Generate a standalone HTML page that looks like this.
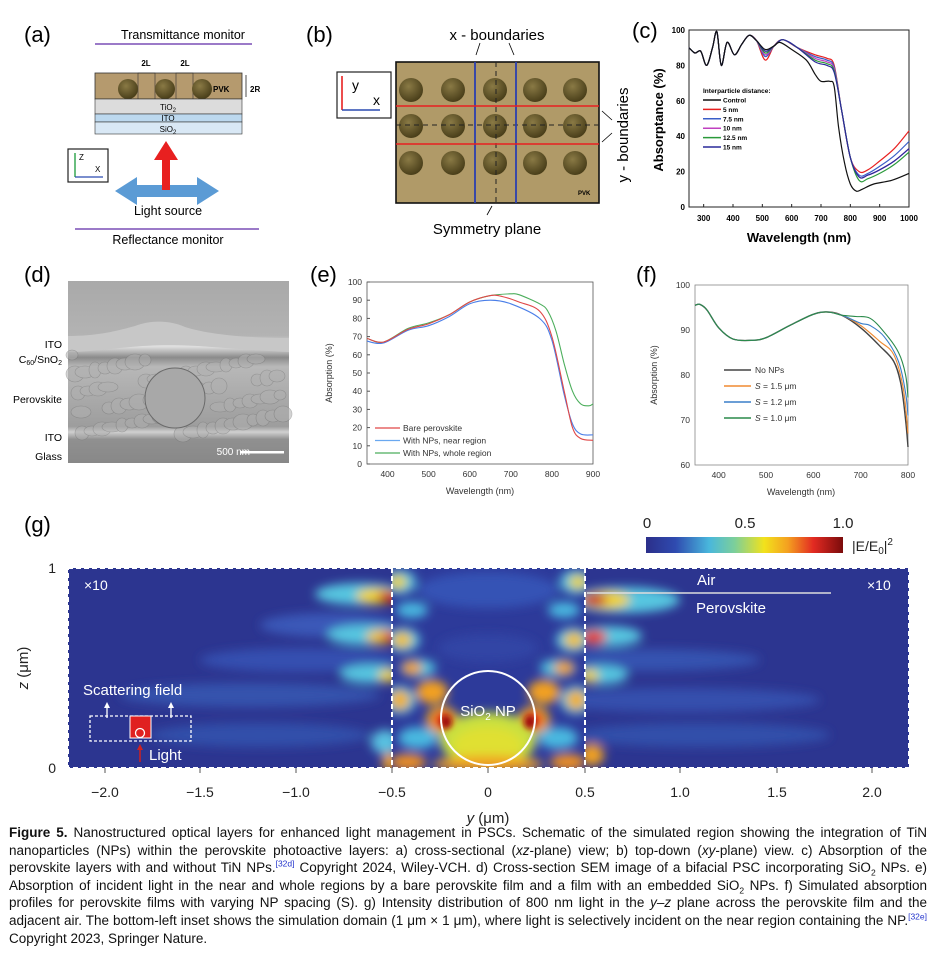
<!DOCTYPE html>
<html><head><meta charset="utf-8">
<style>
html,body{margin:0;padding:0;background:#fff;}
body{width:936px;height:974px;position:relative;overflow:hidden;font-family:"Liberation Sans",sans-serif;}
svg{position:absolute;left:0;top:0;}
.cap{position:absolute;left:9px;top:824px;width:918px;font-family:"Liberation Sans",sans-serif;font-size:13.5px;line-height:17.6px;text-align:justify;color:#111;}
.cap sup,.cap sub{font-size:8.5px;line-height:0;}
.cap a{color:#2233cc;}
</style></head><body>
<svg id="s" width="936" height="974" viewBox="0 0 936 974" font-family="Liberation Sans, sans-serif">
<defs>
<radialGradient id="sph" cx="40%" cy="35%" r="65%"><stop offset="0" stop-color="#8a7a45"/><stop offset="1" stop-color="#4a3f1a"/></radialGradient>
<linearGradient id="cbar" x1="0" x2="1" y1="0" y2="0">
<stop offset="0" stop-color="#2b2f8a"/><stop offset="0.15" stop-color="#2f4bb0"/><stop offset="0.32" stop-color="#49b7dc"/><stop offset="0.45" stop-color="#7ccf9a"/><stop offset="0.6" stop-color="#f2e21c"/><stop offset="0.72" stop-color="#f4a020"/><stop offset="0.85" stop-color="#e22a22"/><stop offset="1" stop-color="#7a0b0b"/></linearGradient>
<filter id="bl" x="-50%" y="-50%" width="200%" height="200%"><feGaussianBlur stdDeviation="5"/></filter>
<filter id="bl2" x="-50%" y="-50%" width="200%" height="200%"><feGaussianBlur stdDeviation="3"/></filter>
<clipPath id="gL"><rect x="68" y="568" width="324" height="200"/></clipPath>
<clipPath id="gM"><rect x="392" y="568" width="193" height="200"/></clipPath>
<clipPath id="gR"><rect x="585" y="568" width="324" height="200"/></clipPath>
<linearGradient id="sem" x1="0" x2="0" y1="0" y2="1"><stop offset="0" stop-color="#a9a9a9"/><stop offset="0.3" stop-color="#b3b3b3"/><stop offset="0.36" stop-color="#e0e0e0"/><stop offset="0.42" stop-color="#8a8a8a"/><stop offset="0.47" stop-color="#b8b8b8"/><stop offset="0.8" stop-color="#9d9d9d"/><stop offset="0.83" stop-color="#d0d0d0"/><stop offset="0.87" stop-color="#909090"/><stop offset="1" stop-color="#888"/></linearGradient>
</defs>

<!-- (a) -->
<text x="24" y="42" font-size="22">(a)</text>
<text x="183" y="39" font-size="12.5" text-anchor="middle">Transmittance monitor</text>
<line x1="95" y1="44" x2="252" y2="44" stroke="#7a4fb5" stroke-width="1.5"/>
<rect x="95" y="73" width="147" height="26" fill="#b59a6e" stroke="#333" stroke-width="0.8"/>
<rect x="138" y="73" width="17" height="26" fill="none" stroke="#333" stroke-width="0.6"/>
<rect x="176" y="73" width="17" height="26" fill="none" stroke="#333" stroke-width="0.6"/>
<circle cx="128" cy="89" r="10" fill="url(#sph)"/><circle cx="165" cy="89" r="10" fill="url(#sph)"/><circle cx="202" cy="89" r="10" fill="url(#sph)"/>
<text x="213" y="92" font-size="8" font-weight="bold">PVK</text>
<text x="250" y="92" font-size="8" font-weight="bold">2R</text>
<line x1="246" y1="75" x2="246" y2="97" stroke="#000" stroke-width="0.7"/>
<text x="146" y="66" font-size="8" font-weight="bold" text-anchor="middle">2L</text>
<text x="185" y="66" font-size="8" font-weight="bold" text-anchor="middle">2L</text>
<rect x="95" y="99" width="147" height="15" fill="#dcdcdc" stroke="#333" stroke-width="0.6"/>
<rect x="95" y="114" width="147" height="8" fill="#bcd8ee" stroke="#333" stroke-width="0.6"/>
<rect x="95" y="122" width="147" height="12" fill="#d9e8f5" stroke="#333" stroke-width="0.6"/>
<text x="168" y="110" font-size="8" text-anchor="middle">TiO<tspan font-size="6" dy="2">2</tspan></text>
<text x="168" y="121" font-size="8" text-anchor="middle">ITO</text>
<text x="168" y="132" font-size="8" text-anchor="middle">SiO<tspan font-size="6" dy="2">2</tspan></text>
<rect x="68" y="149" width="40" height="33" fill="#fff" stroke="#222" stroke-width="1.2"/>
<line x1="75" y1="177" x2="75" y2="153" stroke="#1a9a3a" stroke-width="1.3"/><line x1="75" y1="177" x2="103" y2="177" stroke="#2a4ab0" stroke-width="1.3"/>
<text x="79" y="160" font-size="8">Z</text><text x="95" y="172" font-size="8">X</text>
<polygon points="115,191 137,177 137,185 197,185 197,177 219,191 197,205 197,197 137,197 137,205" fill="#5b9bd5"/>
<polygon points="162,190 162,160 154,160 166,141 178,160 170,160 170,190" fill="#e82020"/>
<text x="168" y="215" font-size="12.5" text-anchor="middle">Light source</text>
<line x1="75" y1="229" x2="259" y2="229" stroke="#7a4fb5" stroke-width="1.5"/>
<text x="168" y="244" font-size="12.5" text-anchor="middle">Reflectance monitor</text>

<!-- (b) -->
<text x="306" y="42" font-size="22">(b)</text>
<text x="497" y="40" font-size="15" text-anchor="middle">x - boundaries</text>
<rect x="337" y="72" width="54" height="46" fill="#fff" stroke="#222" stroke-width="1.2"/>
<line x1="342" y1="110" x2="342" y2="76" stroke="#e82020" stroke-width="1.6"/><line x1="342" y1="110" x2="380" y2="110" stroke="#2a4ab0" stroke-width="1.6"/>
<text x="352" y="90" font-size="14">y</text><text x="373" y="105" font-size="14">x</text>
<rect x="396" y="62" width="203" height="141" fill="#b09a68" stroke="#111" stroke-width="1.6"/>
<g id="bsph"></g>
<line x1="396" y1="125" x2="599" y2="125" stroke="#222" stroke-dasharray="5,4" stroke-width="1"/>
<line x1="496" y1="62" x2="496" y2="203" stroke="#222" stroke-dasharray="5,4" stroke-width="1"/>
<line x1="475" y1="62" x2="475" y2="203" stroke="#2b3fb0" stroke-width="1.8"/>
<line x1="516" y1="62" x2="516" y2="203" stroke="#2b3fb0" stroke-width="1.8"/>
<line x1="396" y1="106" x2="599" y2="106" stroke="#e82020" stroke-width="1.5"/>
<line x1="396" y1="144" x2="599" y2="144" stroke="#e82020" stroke-width="1.5"/>
<text x="578" y="195" font-size="6" font-weight="bold">PVK</text>
<line x1="480" y1="43" x2="476" y2="55" stroke="#000" stroke-width="0.8"/><line x1="509" y1="43" x2="514" y2="55" stroke="#000" stroke-width="0.8"/>
<line x1="487" y1="215" x2="492" y2="206" stroke="#000" stroke-width="0.8"/>
<line x1="612" y1="120" x2="602" y2="111" stroke="#000" stroke-width="0.8"/><line x1="612" y1="133" x2="602" y2="142" stroke="#000" stroke-width="0.8"/>
<text x="487" y="234" font-size="15" text-anchor="middle">Symmetry plane</text>
<text transform="translate(628,135) rotate(-90)" font-size="15" text-anchor="middle">y - boundaries</text>

<!-- (c) -->
<text x="632" y="38" font-size="22">(c)</text>
<rect x="689" y="30" width="220" height="177" fill="none" stroke="#222" stroke-width="1"/>
<g id="cax" font-size="8" font-weight="bold"></g>
<g id="cplot" fill="none" stroke-width="1.2"></g>
<text x="703" y="93" font-size="6.5" font-weight="bold">Interparticle distance:</text>
<g id="cleg" font-size="6.5" font-weight="bold"></g>
<text x="799" y="242" font-size="13" font-weight="bold" text-anchor="middle">Wavelength (nm)</text>
<text transform="translate(663,120) rotate(-90)" font-size="13" font-weight="bold" text-anchor="middle">Absorptance (%)</text>

<!-- (d) -->
<text x="24" y="282" font-size="22">(d)</text>
<rect x="68" y="281" width="221" height="182" fill="url(#sem)"/>
<path d="M68,336 C100,336 120,330 135,326 C150,320 170,320 185,327 C210,335 250,338 289,338 L289,352 C240,350 200,345 170,345 C130,345 100,352 68,352Z" fill="#c7c7c7"/>
<g id="semg" fill="#b0b0b0" stroke="#777" stroke-width="0.6" opacity="0.55"></g>
<circle cx="175" cy="398" r="30" fill="#a8a8a8" stroke="#6a6a6a"/>
<text x="250" y="455" font-size="10" fill="#fff" text-anchor="end">500 nm</text>
<rect x="240" y="451" width="44" height="2.5" fill="#fff"/>
<g font-size="10.5" text-anchor="end">
<text x="62" y="348">ITO</text>
<text x="62" y="363">C<tspan font-size="7" dy="2">60</tspan><tspan dy="-2">/SnO</tspan><tspan font-size="7" dy="2">2</tspan></text>
<text x="62" y="403">Perovskite</text>
<text x="62" y="441">ITO</text>
<text x="62" y="460">Glass</text>
</g>

<!-- (e) -->
<text x="310" y="282" font-size="22">(e)</text>
<rect x="367" y="282" width="226" height="182" fill="none" stroke="#555" stroke-width="0.8"/>
<g id="eax" font-size="8.5" fill="#333"></g>
<g id="eplot" fill="none" stroke-width="1.1"></g>
<g id="eleg" font-size="8.5" fill="#333"></g>
<text x="480" y="494" font-size="9" fill="#333" text-anchor="middle">Wavelength (nm)</text>
<text transform="translate(332,373) rotate(-90)" font-size="9" fill="#333" text-anchor="middle">Absorption (%)</text>

<!-- (f) -->
<text x="636" y="282" font-size="22">(f)</text>
<rect x="695" y="285" width="213" height="180" fill="none" stroke="#888" stroke-width="0.8"/>
<g id="fax" font-size="8.5" fill="#333"></g>
<g id="fplot" fill="none" stroke-width="1.1"></g>
<g id="fleg" font-size="8.5" fill="#333"></g>
<text x="801" y="495" font-size="9" fill="#333" text-anchor="middle">Wavelength (nm)</text>
<text transform="translate(657,375) rotate(-90)" font-size="9" fill="#333" text-anchor="middle">Absorption (%)</text>

<!-- (g) -->
<text x="24" y="532" font-size="22">(g)</text>
<text x="647" y="528" font-size="15" fill="#222" text-anchor="middle">0</text>
<text x="745" y="528" font-size="15" fill="#222" text-anchor="middle">0.5</text>
<text x="843" y="528" font-size="15" fill="#222" text-anchor="middle">1.0</text>
<rect x="646" y="537" width="197" height="16" fill="url(#cbar)"/>
<text x="852" y="551" font-size="14" fill="#222">|E/E<tspan font-size="10" dy="3">0</tspan><tspan dy="-3">|</tspan><tspan font-size="10" dy="-6">2</tspan></text>

<rect x="68" y="568" width="841" height="200" fill="#2c3590"/>
<g clip-path="url(#gL)"><g filter="url(#bl)">
<ellipse cx="330" cy="625" rx="70" ry="12" fill="#3a58b8"/>
<ellipse cx="300" cy="660" rx="100" ry="12" fill="#3550b0"/>
<ellipse cx="250" cy="695" rx="130" ry="12" fill="#3452ad"/>
<ellipse cx="260" cy="735" rx="110" ry="12" fill="#3350aa"/>
<ellipse cx="360" cy="594" rx="45" ry="11" fill="#56c6e0"/>
<ellipse cx="378" cy="596" rx="22" ry="8" fill="#f0d020"/>
<ellipse cx="390" cy="597" rx="12" ry="6" fill="#c81818"/>
<ellipse cx="365" cy="635" rx="38" ry="10" fill="#56c6e0"/>
<ellipse cx="382" cy="637" rx="16" ry="7" fill="#f0c020"/>
<ellipse cx="390" cy="637" rx="8" ry="5" fill="#d82018"/>
<ellipse cx="370" cy="674" rx="30" ry="9" fill="#56c6e0"/>
<ellipse cx="388" cy="676" rx="10" ry="6" fill="#f0d020"/>
<ellipse cx="385" cy="742" rx="14" ry="12" fill="#58c0e0"/>
<ellipse cx="390" cy="762" rx="8" ry="9" fill="#f0a020"/>
</g></g>
<g clip-path="url(#gM)">
<rect x="392" y="568" width="193" height="200" fill="#2d3a9a"/>
<g filter="url(#bl)">
<ellipse cx="488" cy="590" rx="70" ry="18" fill="#3552b5"/>
<ellipse cx="488" cy="648" rx="50" ry="14" fill="#3044a5"/>
<ellipse cx="400" cy="582" rx="16" ry="12" fill="#56c6e0"/><ellipse cx="576" cy="582" rx="16" ry="12" fill="#56c6e0"/>
<ellipse cx="398" cy="582" rx="9" ry="7" fill="#e8d020"/><ellipse cx="578" cy="582" rx="9" ry="7" fill="#e8d020"/>
<ellipse cx="412" cy="610" rx="16" ry="8" fill="#4ab8e0"/><ellipse cx="564" cy="610" rx="16" ry="8" fill="#4ab8e0"/>
<ellipse cx="403" cy="640" rx="17" ry="12" fill="#56c6e0"/><ellipse cx="573" cy="640" rx="17" ry="12" fill="#56c6e0"/>
<ellipse cx="402" cy="640" rx="10" ry="8" fill="#f0c020"/><ellipse cx="574" cy="640" rx="10" ry="8" fill="#f0c020"/>
<ellipse cx="418" cy="668" rx="18" ry="9" fill="#50c0dc"/><ellipse cx="558" cy="668" rx="18" ry="9" fill="#50c0dc"/>
<ellipse cx="412" cy="668" rx="10" ry="7" fill="#f2a020"/><ellipse cx="564" cy="668" rx="10" ry="7" fill="#f2a020"/>
<ellipse cx="400" cy="700" rx="16" ry="14" fill="#56c6e0"/><ellipse cx="576" cy="700" rx="16" ry="14" fill="#56c6e0"/>
<ellipse cx="400" cy="700" rx="10" ry="10" fill="#f0b020"/><ellipse cx="576" cy="700" rx="10" ry="10" fill="#f0b020"/>
<ellipse cx="432" cy="692" rx="16" ry="12" fill="#f2a020"/><ellipse cx="544" cy="692" rx="16" ry="12" fill="#f2a020"/>
<ellipse cx="442" cy="720" rx="16" ry="14" fill="#f0b020"/><ellipse cx="534" cy="720" rx="16" ry="14" fill="#f0b020"/>
<ellipse cx="442" cy="720" rx="10" ry="9" fill="#e83020"/><ellipse cx="534" cy="720" rx="10" ry="9" fill="#e83020"/>
<ellipse cx="418" cy="738" rx="20" ry="11" fill="#48b8e0"/><ellipse cx="558" cy="738" rx="20" ry="11" fill="#48b8e0"/>
<ellipse cx="488" cy="740" rx="48" ry="28" fill="#c8e040"/>
<ellipse cx="488" cy="745" rx="35" ry="18" fill="#e0e030"/>
<ellipse cx="488" cy="764" rx="55" ry="8" fill="#f0a020"/>
<ellipse cx="408" cy="762" rx="18" ry="8" fill="#f09020"/><ellipse cx="568" cy="762" rx="18" ry="8" fill="#f09020"/>
</g>
<g filter="url(#bl2)"><ellipse cx="446" cy="722" rx="6" ry="7" fill="#a01010"/><ellipse cx="530" cy="722" rx="6" ry="7" fill="#a01010"/></g>
</g>
<g clip-path="url(#gR)"><g filter="url(#bl)">
<ellipse cx="650" cy="660" rx="110" ry="11" fill="#3552b0"/>
<ellipse cx="680" cy="700" rx="140" ry="12" fill="#3450ad"/>
<ellipse cx="700" cy="735" rx="130" ry="12" fill="#3350aa"/>
<ellipse cx="625" cy="600" rx="55" ry="13" fill="#56c6e0"/>
<ellipse cx="605" cy="600" rx="25" ry="9" fill="#f0d020"/>
<ellipse cx="594" cy="600" rx="13" ry="6" fill="#c81818"/>
<ellipse cx="608" cy="636" rx="34" ry="10" fill="#56c6e0"/>
<ellipse cx="594" cy="637" rx="13" ry="7" fill="#e83020"/>
<ellipse cx="602" cy="675" rx="26" ry="9" fill="#56c6e0"/>
<ellipse cx="590" cy="676" rx="9" ry="6" fill="#f0d020"/>
<ellipse cx="592" cy="755" rx="12" ry="11" fill="#f0a020"/>
</g></g>
<circle cx="488" cy="718" r="47" fill="none" stroke="#fff" stroke-width="2"/>
<text x="488" y="716" font-size="15" fill="#fff" text-anchor="middle">SiO<tspan font-size="10" dy="4">2</tspan><tspan dy="-4"> NP</tspan></text>
<rect x="68" y="568" width="841" height="200" fill="none" stroke="#fff" stroke-width="2" stroke-dasharray="5,3"/>
<line x1="392" y1="568" x2="392" y2="768" stroke="#fff" stroke-width="2" stroke-dasharray="5,3"/>
<line x1="585" y1="568" x2="585" y2="768" stroke="#fff" stroke-width="2" stroke-dasharray="5,3"/>
<text x="84" y="590" font-size="14" fill="#fff">×10</text>
<text x="867" y="590" font-size="14" fill="#fff">×10</text>
<text x="697" y="585" font-size="15" fill="#fff">Air</text>
<line x1="587" y1="593" x2="831" y2="593" stroke="#ddd" stroke-width="1.5"/>
<text x="696" y="613" font-size="15" fill="#fff">Perovskite</text>
<text x="83" y="695" font-size="15" fill="#fff">Scattering field</text>
<rect x="90" y="716" width="101" height="25" fill="none" stroke="#fff" stroke-width="1.3" stroke-dasharray="3,2"/>
<rect x="130" y="716" width="21" height="22" fill="#e02020" stroke="#fff" stroke-width="1"/>
<circle cx="140" cy="733" r="4.5" fill="none" stroke="#fff" stroke-width="1.3"/>
<line x1="107" y1="718" x2="107" y2="706" stroke="#fff" stroke-width="1.3"/><polygon points="104,708 107,702 110,708" fill="#fff"/>
<line x1="171" y1="718" x2="171" y2="706" stroke="#fff" stroke-width="1.3"/><polygon points="168,708 171,702 174,708" fill="#fff"/>
<line x1="140" y1="762" x2="140" y2="748" stroke="#d02020" stroke-width="1.5"/><polygon points="137,750 140,744 143,750" fill="#d02020"/>
<text x="149" y="760" font-size="15" fill="#fff">Light</text>
<g id="gax" font-size="14" fill="#222"></g>
<text x="56" y="573" font-size="14" fill="#222" text-anchor="end">1</text>
<text x="56" y="773" font-size="14" fill="#222" text-anchor="end">0</text>
<text transform="translate(28,668) rotate(-90)" font-size="15" fill="#222" text-anchor="middle"><tspan font-style="italic">z</tspan> (μm)</text>
<text x="488" y="823" font-size="15" fill="#222" text-anchor="middle"><tspan font-style="italic">y</tspan> (μm)</text>
</svg>

<div class="cap"><b>Figure 5.</b> Nanostructured optical layers for enhanced light management in PSCs. Schematic of the simulated region showing the integration of TiN nanoparticles (NPs) within the perovskite photoactive layers: a) cross-sectional (<i>xz</i>-plane) view; b) top-down (<i>xy</i>-plane) view. c) Absorption of the perovskite layers with and without TiN NPs.<sup><a>[32d]</a></sup> Copyright 2024, Wiley-VCH. d) Cross-section SEM image of a bifacial PSC incorporating SiO<sub>2</sub> NPs. e) Absorption of incident light in the near and whole regions by a bare perovskite film and a film with an embedded SiO<sub>2</sub> NPs. f) Simulated absorption profiles for perovskite films with varying NP spacing (S). g) Intensity distribution of 800 nm light in the <i>y</i>–<i>z</i> plane across the perovskite film and the adjacent air. The bottom-left inset shows the simulation domain (1 μm × 1 μm), where light is selectively incident on the near region containing the NP.<sup><a>[32e]</a></sup> Copyright 2023, Springer Nature.</div>

<script>
var NS="http://www.w3.org/2000/svg";
function el(p,t,a,txt){var e=document.createElementNS(NS,t);for(var k in a)e.setAttribute(k,a[k]);if(txt!==undefined)e.textContent=txt;document.getElementById(p).appendChild(e);return e;}
function path(pts,X,Y){var P=pts.map(function(p){return [X(p[0]),Y(p[1])];});var d="M"+P[0][0].toFixed(1)+","+P[0][1].toFixed(1);
for(var i=0;i<P.length-1;i++){var p0=P[i-1]||P[i],p1=P[i],p2=P[i+1],p3=P[i+2]||p2;
d+=" C"+(p1[0]+(p2[0]-p0[0])/6).toFixed(1)+","+(p1[1]+(p2[1]-p0[1])/6).toFixed(1)+" "+(p2[0]-(p3[0]-p1[0])/6).toFixed(1)+","+(p2[1]-(p3[1]-p1[1])/6).toFixed(1)+" "+p2[0].toFixed(1)+","+p2[1].toFixed(1);}
return d;}
[411,453,495,535,575].forEach(function(x){[90,126,163].forEach(function(y){el("bsph","circle",{cx:x,cy:y,r:12,fill:"url(#sph)"});});});
var cX=function(w){return 689+(w-250)*220/750;},cY=function(a){return 207-1.77*a;};
[300,400,500,600,700,800,900,1000].forEach(function(w){el("cax","text",{x:cX(w),y:221,"text-anchor":"middle"},w);el("cax","line",{x1:cX(w),x2:cX(w),y1:207,y2:204,stroke:"#222"});});
[0,20,40,60,80,100].forEach(function(a){el("cax","text",{x:685,y:cY(a)+3,"text-anchor":"end"},a);});
var base=[[250,90],[270,87],[290,88],[310,80],[330,90],[345,99],[360,80],[380,93],[405,86],[430,92],[455,97],[480,94]];
function cser(d510,hi,tail){return base.concat([[510,d510],[540,91],[570,94.5],[620,90],[680,hi],[720,hi-2],[745,hi-6],[770,55],[800,28],[830,tail[0]],[860,tail[1]],[900,tail[2]],[950,tail[3]],[1000,tail[4]]]);}
var cs=[["#e82020",cser(83,86,[20,21,26,33,43])],["#3a5ec8",cser(85,85,[18,19,23,29,37])],["#c040c0",cser(86,84,[17,18,21,26,33])],["#2a9a3a",cser(87,83,[15,16,19,24,31])],["#2a2a9a",cser(88,82,[17,18,21,26,33])]];
cs.forEach(function(s){el("cplot","path",{d:path(s[1],cX,cY),stroke:s[0]});});
el("cplot","path",{d:path(base.concat([[510,89],[540,91],[560,93],[600,89],[650,83],[680,75],[700,71],[730,71],[745,68],[760,45],[780,25],[800,13],[820,9],[840,10],[880,13],[940,15],[1000,19]]),cX,cY),stroke:"#111"});
[["#111","Control"],["#e82020","5 nm"],["#3a5ec8","7.5 nm"],["#c040c0","10 nm"],["#2a9a3a","12.5 nm"],["#2a2a9a","15 nm"]].forEach(function(l,i){var y=100+i*9.4;el("cleg","line",{x1:703,x2:721,y1:y,y2:y,stroke:l[0],"stroke-width":1.5});el("cleg","text",{x:723,y:y+2.5},l[1]);});
var eX=function(w){return 367+(w-350)*226/550;},eY=function(a){return 464-1.82*a;};
[400,500,600,700,800,900].forEach(function(w){el("eax","text",{x:eX(w),y:477,"text-anchor":"middle"},w);});
for(var a=0;a<=100;a+=10){el("eax","text",{x:362,y:eY(a)+3,"text-anchor":"end"},a);el("eax","line",{x1:367,x2:370,y1:eY(a),y2:eY(a),stroke:"#555"});}
el("eplot","path",{d:path([[350,69],[390,67],[450,74.5],[500,77.5],[550,82],[600,89],[650,92.5],[700,93.5],[720,93],[770,88],[790,84],[810,73],[830,55],[850,40],[870,33],[890,32],[900,33]],eX,eY),stroke:"#4cae5c"});
el("eplot","path",{d:path([[350,67.5],[390,66.5],[450,73.5],[500,76],[550,81],[600,88],[650,90],[700,88],[770,80],[800,68],[830,38],[850,22],[870,16.5],[900,16]],eX,eY),stroke:"#4a7ee8"});
el("eplot","path",{d:path([[350,69],[390,67],[450,74],[500,77],[550,82],[600,89],[650,92.5],[680,92],[720,89],[770,84],[800,70],[830,40],[850,20],[870,14],[900,13]],eX,eY),stroke:"#e04848"});
[["#e04848","Bare perovskite"],["#6aa8f0","With NPs, near region"],["#4cae5c","With NPs, whole region"]].forEach(function(l,i){var y=428+i*12.5;el("eleg","line",{x1:375,x2:400,y1:y,y2:y,stroke:l[0],"stroke-width":1.3});el("eleg","text",{x:403,y:y+3},l[1]);});
var fX=function(w){return 695+(w-350)*213/450;},fY=function(a){return 285+4.5*(100-a);};
[400,500,600,700,800].forEach(function(w){el("fax","text",{x:fX(w),y:478,"text-anchor":"middle"},w);});
[60,70,80,90,100].forEach(function(a){el("fax","text",{x:690,y:fY(a)+3,"text-anchor":"end"},a);});
var fb=[[350,95.5],[360,95.7],[375,94.5],[400,90.5],[430,88],[470,87.7],[500,88.3],[550,91],[600,93.5],[630,94],[660,93.3]];
el("fplot","path",{d:path(fb.concat([[700,90.5],[740,86.5],[770,83],[785,78],[795,70],[800,64]]),fX,fY),stroke:"#444","stroke-width":1.4});
el("fplot","path",{d:path(fb.concat([[700,91],[740,87.5],[770,84.5],[790,77],[800,67]]),fX,fY),stroke:"#f08a30"});
el("fplot","path",{d:path(fb.concat([[700,91.5],[720,91],[750,88.5],[780,83],[795,76],[800,71]]),fX,fY),stroke:"#3a7ec8"});
el("fplot","path",{d:path(fb.concat([[690,93],[720,92.6],[750,89.5],[780,85],[795,80],[800,75]]),fX,fY),stroke:"#2a8a4a"});
[["#444","No NPs",null],["#f08a30","S","= 1.5 μm"],["#3a7ec8","S","= 1.2 μm"],["#2a8a4a","S","= 1.0 μm"]].forEach(function(l,i){var y=370+i*16;el("fleg","line",{x1:724,x2:751,y1:y,y2:y,stroke:l[0],"stroke-width":1.6});var t=el("fleg","text",{x:755,y:y+3});if(l[2]){var a=document.createElementNS(NS,"tspan");a.setAttribute("font-style","italic");a.textContent="S ";t.appendChild(a);var b=document.createElementNS(NS,"tspan");b.textContent=l[2];t.appendChild(b);}else t.textContent=l[1];});
[["−2.0",105],["−1.5",200],["−1.0",296],["−0.5",392],["0",488],["0.5",585],["1.0",680],["1.5",777],["2.0",872]].forEach(function(t){el("gax","text",{x:t[1],y:797,"text-anchor":"middle"},t[0]);el("gax","line",{x1:t[1],x2:t[1],y1:768,y2:773,stroke:"#555"});});
for(var i=0;i<70;i++){var x=72+((i*37)%212),y=355+((i*53)%80);el("semg","ellipse",{cx:x,cy:y,rx:6+(i%5),ry:5+(i%4)});}
</script>
</body></html>
